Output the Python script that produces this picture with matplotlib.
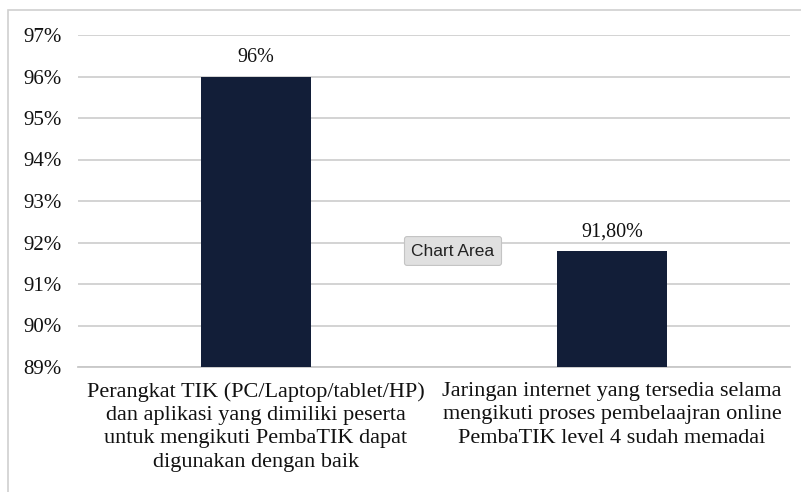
import matplotlib
matplotlib.use("Agg")
import matplotlib.pyplot as plt
from matplotlib.patches import Rectangle

categories = [
    "Perangkat TIK (PC/Laptop/tablet/HP)\ndan aplikasi yang dimiliki peserta\nuntuk mengikuti PembaTIK dapat\ndigunakan dengan baik",
    "Jaringan internet yang tersedia selama\nmengikuti proses pembelaajran online\nPembaTIK level 4 sudah memadai",
]
values = [96.0, 91.8]
value_labels = ["96%", "91,80%"]
yticks = [89, 90, 91, 92, 93, 94, 95, 96, 97]
ytick_labels = ["89%", "90%", "91%", "92%", "93%", "94%", "95%", "96%", "97%"]

plt.rcParams['font.family'] = ['Liberation Serif', 'DejaVu Serif']

fig = plt.figure(figsize=(8.01, 4.92), dpi=100)
ax = fig.add_axes([78/801, 1 - 367/492, (790-78)/801, (367-35)/492])

x = list(range(len(categories)))
ax.bar(x, [v - 89 for v in values], bottom=89, width=0.31, color="#121e38", zorder=3)
for xi, v, lab in zip(x, values, value_labels):
    ax.text(xi, v + 0.22, lab, ha="center", va="bottom", fontsize=14.5, color="#111111")

ax.set_xlim(-0.5, 1.5)
ax.set_ylim(89, 97)
ax.set_yticks(yticks)
ax.set_yticklabels(ytick_labels, fontsize=15, color="#111111")
ax.set_xticks(x)
ax.set_xticklabels(categories, fontsize=16, color="#111111", linespacing=1.3)
ax.tick_params(axis="y", length=0, pad=12)
ax.tick_params(axis="x", length=0, pad=11)
ax.grid(axis="y", color="#d0d0d0", linewidth=1.3, zorder=0)
for s in ["top", "right", "left"]:
    ax.spines[s].set_visible(False)
ax.spines["bottom"].set_color("#c8c8c8")
ax.spines["bottom"].set_linewidth(1.3)

# chart area border (visible at left and top)
fig.add_artist(Rectangle((8/801, -0.1), 1.2, 1 - 10/492 + 0.1, transform=fig.transFigure,
                         fill=False, edgecolor="#d0d0d0", linewidth=1.2))

# "Chart Area" tooltip
fig.text(453/801, 1 - 251/492, "Chart Area", ha="center", va="center",
         fontsize=12.5, family=["Liberation Sans", "DejaVu Sans"], color="#222222",
         bbox=dict(boxstyle="round,pad=0.4,rounding_size=0.15", facecolor="#e0e0e0",
                   edgecolor="#c4c4c4", linewidth=0.8))

fig.savefig("out.png", dpi=100)
